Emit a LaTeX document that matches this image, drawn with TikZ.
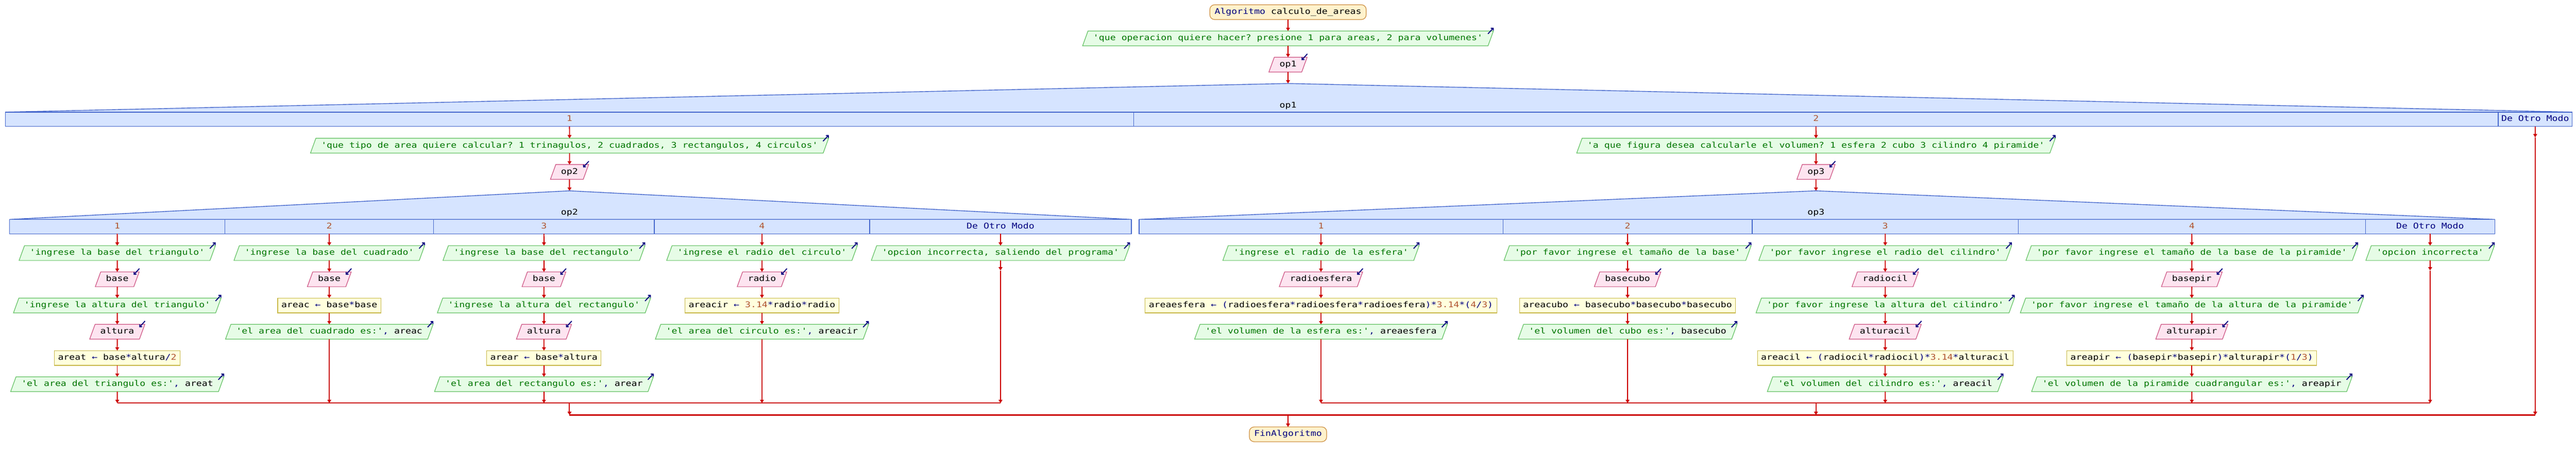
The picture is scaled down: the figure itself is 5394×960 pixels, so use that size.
\documentclass[tikz,border=0pt]{standalone}
\usepackage{fontspec}
\setmonofont{DejaVu Sans Mono}[FakeStretch=1.19]
\usetikzlibrary{shapes.geometric,arrows.meta}
\definecolor{cred}{RGB}{204,0,0}
\definecolor{navy}{RGB}{0,0,128}
\definecolor{sgreen}{RGB}{0,118,0}
\definecolor{nbrown}{RGB}{176,84,48}
\definecolor{termfill}{RGB}{255,242,204}
\definecolor{termln}{RGB}{204,140,60}
\definecolor{outfill}{RGB}{230,252,230}
\definecolor{outln}{RGB}{96,192,96}
\definecolor{infill}{RGB}{253,228,240}
\definecolor{inln}{RGB}{204,80,128}
\definecolor{asgfill}{RGB}{255,255,221}
\definecolor{asgln}{RGB}{200,184,72}
\definecolor{swfill}{RGB}{214,228,255}
\definecolor{swln}{RGB}{68,102,204}
\newcommand\Sg[1]{\textcolor{sgreen}{#1}}
\newcommand\Op[1]{\textcolor{navy}{#1}}
\newcommand\Nm[1]{\textcolor{nbrown}{#1}}
\newcommand\pstext{\ttfamily\fontsize{16.5pt}{19pt}\selectfont}
\newcommand\POut[4]{\node[outbox] (#1) at (#2,#3) {#4};
  \draw[icon] ([shift={(-11.5,6)}]#1.top right corner) -- ([shift={(0.5,-7)}]#1.top right corner);}
\newcommand\PIn[4]{\node[inbox] (#1) at (#2,#3) {#4};
  \draw[icon] ([shift={(0.5,-7)}]#1.top right corner) -- ([shift={(-11.5,6)}]#1.top right corner);}
\newcommand\PAsg[4]{\node[asgbox] (#1) at (#2,#3) {#4};}
\tikzset{
  psbase/.style={font=\pstext, text height=12.5pt, text depth=4pt, inner ysep=7.25pt, outer sep=0pt},
  outbox/.style={psbase, trapezium, trapezium left angle=70, trapezium right angle=110,
    draw=outln, fill=outfill, line width=1.3pt, inner xsep=11pt},
  inbox/.style={psbase, trapezium, trapezium left angle=70, trapezium right angle=110,
    draw=inln, fill=infill, line width=1.3pt, inner xsep=11pt},
  asgbox/.style={psbase, rectangle, draw=asgln, fill=asgfill, line width=1.3pt, inner xsep=7.5pt},
  termbox/.style={psbase, rectangle, rounded corners=10pt, draw=termln, fill=termfill, line width=1.3pt, inner xsep=10pt},
  conn/.style={draw=cred, line width=2pt, -{Triangle[length=7pt,width=8pt]}},
  mergeline/.style={draw=cred, line width=2.5pt},
  icon/.style={draw=navy, line width=2pt, -{Straight Barb[length=3.5pt,width=7pt]}},
  swshape/.style={draw=swln, fill=swfill, line width=1.5pt},
  swdiv/.style={draw=swln, line width=1.2pt},
  lbl/.style={font=\pstext, inner sep=0pt, text height=12.5pt, text depth=4pt},
}
\begin{document}
\begin{tikzpicture}[x=1pt,y=-1pt]
\fill[white] (0,0) rectangle (5394,960);
\useasboundingbox (0,0) rectangle (5394,960);

% ---------- top ----------
\node[termbox] (start) at (2697,25.5) {\Op{Algoritmo} calculo\_de\_areas};
\POut{o1}{2697}{80.5}{\Sg{'que operacion quiere hacer? presione 1 para areas, 2 para volumenes'}}
\PIn{i1}{2697}{135.5}{op1}
\coordinate (a1) at (2697,175);
\draw[conn] (start) -- (o1);
\draw[conn] (o1) -- (i1);
\draw[conn] (i1) -- (a1);

% ---------- switch op1 ----------
\filldraw[swshape] (11,235) -- (a1) -- (5386,235) -- cycle;
\filldraw[swshape] (11,235) rectangle (5386,265);
\draw[swdiv] (2374,235) -- (2374,265);
\draw[swdiv] (5231,235) -- (5231,265);
\node[lbl] (h1) at (2697,222) {op1};
\node[lbl,text=nbrown] (l11) at (1192.5,250) {1};
\node[lbl,text=nbrown] (l12) at (3802.5,250) {2};
\node[lbl,text=navy] (l13) at (5308.5,250) {De Otro Modo};

% ---------- op1 case 1 ----------
\coordinate (s11) at (1192.5,265);
\POut{o2}{1192.5}{305.5}{\Sg{'que tipo de area quiere calcular? 1 trinagulos, 2 cuadrados, 3 rectangulos, 4 circulos'}}
\PIn{i2}{1192.5}{360.5}{op2}
\coordinate (a2) at (1192.5,400);
\draw[conn] (s11) -- (o2);
\draw[conn] (o2) -- (i2);
\draw[conn] (i2) -- (a2);

% switch op2
\filldraw[swshape] (20,460) -- (a2) -- (2369,460) -- cycle;
\filldraw[swshape] (20,460) rectangle (2369,490);
\foreach \xx in {471,908,1370,1821} \draw[swdiv] (\xx,460) -- (\xx,490);
\node[lbl] (h2) at (1192.5,446) {op2};
\node[lbl,text=nbrown] (l21) at (245.5,475) {1};
\node[lbl,text=nbrown] (l22) at (689.5,475) {2};
\node[lbl,text=nbrown] (l23) at (1139,475) {3};
\node[lbl,text=nbrown] (l24) at (1595.5,475) {4};
\node[lbl,text=navy] (l25) at (2095,475) {De Otro Modo};

% op2 case 1
\coordinate (t21) at (245.5,490);
\POut{c1a}{245.5}{530.5}{\Sg{'ingrese la base del triangulo'}}
\PIn{c1b}{245.5}{585.5}{base}
\POut{c1c}{245.5}{640.5}{\Sg{'ingrese la altura del triangulo'}}
\PIn{c1d}{245.5}{695.5}{altura}
\PAsg{c1e}{245.5}{750.5}{areat \Op{←} base\Op{*}altura\Op{/}\Nm{2}}
\POut{c1f}{245.5}{805.5}{\Sg{'el area del triangulo es:'}\Op{,} areat}
\coordinate (m21) at (245.5,845);
\foreach \u/\v in {t21/c1a,c1a/c1b,c1b/c1c,c1c/c1d,c1d/c1e,c1e/c1f,c1f/m21} \draw[conn] (\u) -- (\v);

% op2 case 2
\coordinate (t22) at (689.5,490);
\POut{c2a}{689.5}{530.5}{\Sg{'ingrese la base del cuadrado'}}
\PIn{c2b}{689.5}{585.5}{base}
\PAsg{c2c}{689.5}{640.5}{areac \Op{←} base\Op{*}base}
\POut{c2d}{689.5}{695.5}{\Sg{'el area del cuadrado es:'}\Op{,} areac}
\coordinate (m22) at (689.5,845);
\foreach \u/\v in {t22/c2a,c2a/c2b,c2b/c2c,c2c/c2d,c2d/m22} \draw[conn] (\u) -- (\v);

% op2 case 3
\coordinate (t23) at (1139,490);
\POut{c3a}{1139}{530.5}{\Sg{'ingrese la base del rectangulo'}}
\PIn{c3b}{1139}{585.5}{base}
\POut{c3c}{1139}{640.5}{\Sg{'ingrese la altura del rectangulo'}}
\PIn{c3d}{1139}{695.5}{altura}
\PAsg{c3e}{1139}{750.5}{arear \Op{←} base\Op{*}altura}
\POut{c3f}{1139}{805.5}{\Sg{'el area del rectangulo es:'}\Op{,} arear}
\coordinate (m23) at (1139,845);
\foreach \u/\v in {t23/c3a,c3a/c3b,c3b/c3c,c3c/c3d,c3d/c3e,c3e/c3f,c3f/m23} \draw[conn] (\u) -- (\v);

% op2 case 4
\coordinate (t24) at (1595.5,490);
\POut{c4a}{1595.5}{530.5}{\Sg{'ingrese el radio del circulo'}}
\PIn{c4b}{1595.5}{585.5}{radio}
\PAsg{c4c}{1595.5}{640.5}{areacir \Op{←} \Nm{3.14}\Op{*}radio\Op{*}radio}
\POut{c4d}{1595.5}{695.5}{\Sg{'el area del circulo es:'}\Op{,} areacir}
\coordinate (m24) at (1595.5,845);
\foreach \u/\v in {t24/c4a,c4a/c4b,c4b/c4c,c4c/c4d,c4d/m24} \draw[conn] (\u) -- (\v);

% op2 otherwise
\coordinate (t25) at (2095,490);
\POut{c5a}{2095}{530.5}{\Sg{'opcion incorrecta, saliendo del programa'}}
\coordinate (e25) at (2095,567);
\coordinate (m25) at (2095,845);
\foreach \u/\v in {t25/c5a,c5a/e25,e25/m25} \draw[conn] (\u) -- (\v);

\draw[mergeline] (m21) -- (m25);
\coordinate (x2) at (1192.5,845);
\coordinate (x2b) at (1192.5,870);
\draw[conn] (x2) -- (x2b);

% ---------- op1 case 2 ----------
\coordinate (s12) at (3802.5,265);
\POut{o3}{3802.5}{305.5}{\Sg{'a que figura desea calcularle el volumen? 1 esfera 2 cubo 3 cilindro 4 piramide'}}
\PIn{i3}{3802.5}{360.5}{op3}
\coordinate (a3) at (3802.5,400);
\draw[conn] (s12) -- (o3);
\draw[conn] (o3) -- (i3);
\draw[conn] (i3) -- (a3);

% switch op3
\filldraw[swshape] (2385,460) -- (a3) -- (5224,460) -- cycle;
\filldraw[swshape] (2385,460) rectangle (5224,490);
\foreach \xx in {3147,3669,4226,4953} \draw[swdiv] (\xx,460) -- (\xx,490);
\node[lbl] (h3) at (3802.5,446) {op3};
\node[lbl,text=nbrown] (l31) at (2766,475) {1};
\node[lbl,text=nbrown] (l32) at (3408,475) {2};
\node[lbl,text=nbrown] (l33) at (3947.5,475) {3};
\node[lbl,text=nbrown] (l34) at (4589.5,475) {4};
\node[lbl,text=navy] (l35) at (5088.5,475) {De Otro Modo};

% op3 case 1
\coordinate (t31) at (2766,490);
\POut{d1a}{2766}{530.5}{\Sg{'ingrese el radio de la esfera'}}
\PIn{d1b}{2766}{585.5}{radioesfera}
\PAsg{d1c}{2766}{640.5}{areaesfera \Op{←} \Op{(}radioesfera\Op{*}radioesfera\Op{*}radioesfera\Op{)*}\Nm{3.14}\Op{*(}\Nm{4}\Op{/}\Nm{3}\Op{)}}
\POut{d1d}{2766}{695.5}{\Sg{'el volumen de la esfera es:'}\Op{,} areaesfera}
\coordinate (m31) at (2766,845);
\foreach \u/\v in {t31/d1a,d1a/d1b,d1b/d1c,d1c/d1d,d1d/m31} \draw[conn] (\u) -- (\v);

% op3 case 2
\coordinate (t32) at (3408,490);
\POut{d2a}{3408}{530.5}{\Sg{'por favor ingrese el tamaño de la base'}}
\PIn{d2b}{3408}{585.5}{basecubo}
\PAsg{d2c}{3408}{640.5}{areacubo \Op{←} basecubo\Op{*}basecubo\Op{*}basecubo}
\POut{d2d}{3408}{695.5}{\Sg{'el volumen del cubo es:'}\Op{,} basecubo}
\coordinate (m32) at (3408,845);
\foreach \u/\v in {t32/d2a,d2a/d2b,d2b/d2c,d2c/d2d,d2d/m32} \draw[conn] (\u) -- (\v);

% op3 case 3
\coordinate (t33) at (3947.5,490);
\POut{d3a}{3947.5}{530.5}{\Sg{'por favor ingrese el radio del cilindro'}}
\PIn{d3b}{3947.5}{585.5}{radiocil}
\POut{d3c}{3947.5}{640.5}{\Sg{'por favor ingrese la altura del cilindro'}}
\PIn{d3d}{3947.5}{695.5}{alturacil}
\PAsg{d3e}{3947.5}{750.5}{areacil \Op{←} \Op{(}radiocil\Op{*}radiocil\Op{)*}\Nm{3.14}\Op{*}alturacil}
\POut{d3f}{3947.5}{805.5}{\Sg{'el volumen del cilindro es:'}\Op{,} areacil}
\coordinate (m33) at (3947.5,845);
\foreach \u/\v in {t33/d3a,d3a/d3b,d3b/d3c,d3c/d3d,d3d/d3e,d3e/d3f,d3f/m33} \draw[conn] (\u) -- (\v);

% op3 case 4
\coordinate (t34) at (4589.5,490);
\POut{d4a}{4589.5}{530.5}{\Sg{'por favor ingrese el tamaño de la base de la piramide'}}
\PIn{d4b}{4589.5}{585.5}{basepir}
\POut{d4c}{4589.5}{640.5}{\Sg{'por favor ingrese el tamaño de la altura de la piramide'}}
\PIn{d4d}{4589.5}{695.5}{alturapir}
\PAsg{d4e}{4589.5}{750.5}{areapir \Op{←} \Op{(}basepir\Op{*}basepir\Op{)*}alturapir\Op{*(}\Nm{1}\Op{/}\Nm{3}\Op{)}}
\POut{d4f}{4589.5}{805.5}{\Sg{'el volumen de la piramide cuadrangular es:'}\Op{,} areapir}
\coordinate (m34) at (4589.5,845);
\foreach \u/\v in {t34/d4a,d4a/d4b,d4b/d4c,d4c/d4d,d4d/d4e,d4e/d4f,d4f/m34} \draw[conn] (\u) -- (\v);

% op3 otherwise
\coordinate (t35) at (5088.5,490);
\POut{d5a}{5088.5}{530.5}{\Sg{'opcion incorrecta'}}
\coordinate (e35) at (5088.5,567);
\coordinate (m35) at (5088.5,845);
\foreach \u/\v in {t35/d5a,d5a/e35,e35/m35} \draw[conn] (\u) -- (\v);

\draw[mergeline] (m31) -- (m35);
\coordinate (x3) at (3802.5,845);
\coordinate (x3b) at (3802.5,870);
\draw[conn] (x3) -- (x3b);

% ---------- op1 otherwise ----------
\coordinate (u1) at (5308.5,265);
\coordinate (u2) at (5308.5,288);
\coordinate (u3) at (5308.5,870);
\draw[conn] (u1) -- (u2);
\draw[conn] (u2) -- (u3);

% ---------- outer merge and end ----------
\draw[mergeline] (x2b) -- (u3);
\coordinate (mo) at (2697,870);
\node[termbox] (fin) at (2697,910.5) {\Op{FinAlgoritmo}};
\draw[conn] (mo) -- (fin);
\end{tikzpicture}
\end{document}
